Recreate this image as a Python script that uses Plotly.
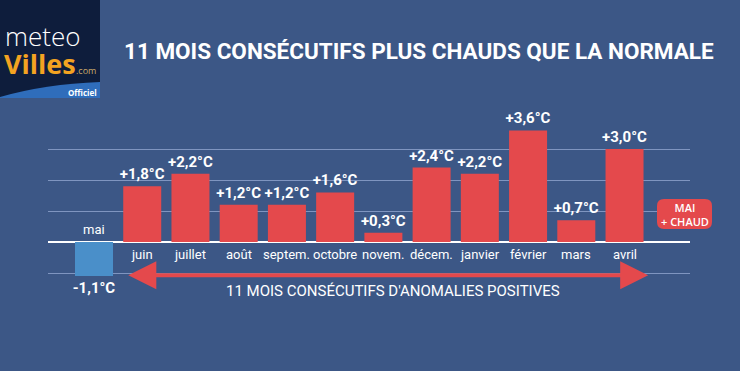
import plotly.graph_objects as go

months = ["mai", "juin", "juillet", "août", "septem.", "octobre", "novem.",
          "décem.", "janvier", "février", "mars", "avril"]
anomalies = [-1.1, 1.8, 2.2, 1.2, 1.2, 1.6, 0.3, 2.4, 2.2, 3.6, 0.7, 3.0]
title_text = "11 MOIS CONSÉCUTIFS PLUS CHAUDS QUE LA NORMALE"
arrow_text = "11 MOIS CONSÉCUTIFS D'ANOMALIES POSITIVES"
badge_text = "MAI<br>+ CHAUD"

BG = "#3c5786"
RED = "#e4494c"
BLUE = "#4a8fc9"
GRID = "#7f95c0"
COND = "Roboto, Liberation Sans, sans-serif"

W, H = 740, 371
L, R, T, B = 48, 690, 125, 290


def X(px):
    return (px - L) / (R - L)


def Y(py):
    return (B - py) / (B - T)


labels = [f"{v:+.1f}°C".replace(".", ",") for v in anomalies]
colors = [BLUE if v < 0 else RED for v in anomalies]
xs = list(range(len(months)))

fig = go.Figure()
fig.add_trace(go.Bar(
    x=xs, y=anomalies, marker=dict(color=colors, line=dict(width=0)),
    text=labels, textposition="outside", cliponaxis=False, constraintext="none",
    textfont=dict(family=COND, size=15, color="white", weight="bold"),
    hoverinfo="skip",
))

annotations = []
for i, (m, v) in enumerate(zip(months, anomalies)):
    annotations.append(dict(
        x=i, y=0, xref="x", yref="y", text=m, showarrow=False,
        xanchor="center", yanchor="bottom" if v < 0 else "top",
        yshift=3 if v < 0 else -3,
        font=dict(family=COND, size=13, color="white"),
    ))

# double arrow spanning positive months
annotations.append(dict(
    x=len(months) - 1 + 0.49, y=-1.07, ax=0.68, ay=-1.07,
    xref="x", yref="y", axref="x", ayref="y", text="",
    showarrow=True, arrowhead=2, startarrowhead=2, arrowside="end+start",
    arrowwidth=4, arrowsize=1.4, startarrowsize=1.4, arrowcolor=RED,
    standoff=0, startstandoff=0,
))


def ptext(px, py, text, font, xanchor="center"):
    annotations.append(dict(
        x=X(px), y=Y(py), xref="paper", yref="paper", text=text,
        xanchor=xanchor, yanchor="middle", showarrow=False, font=font, borderpad=0,
    ))


ptext(393, 291, arrow_text, dict(family="Roboto, sans-serif", size=15, color="white"))
ptext(419, 51, title_text, dict(family=COND, size=22.5, color="white", weight="bold"))
ptext(684.5, 214, badge_text, dict(family="Open Sans, sans-serif", size=11, color="white", weight=600))
ptext(4, 36, "meteo", dict(family="Open Sans, sans-serif", size=26, color="white", weight=300), "left")
ptext(3, 63, "Villes", dict(family="Open Sans, sans-serif", size=27, color="#f3a321", weight="bold"), "left")
ptext(75, 70, ".com", dict(family="Open Sans, sans-serif", size=9, color="#c9a869"), "left")
ptext(98, 92, "Officiel", dict(family="Open Sans, sans-serif", size=8, color="white", weight="bold"), "right")


def rounded(x0, y0, x1, y1, r):
    return (f"M{X(x0 + r)},{Y(y0)} L{X(x1 - r)},{Y(y0)} Q{X(x1)},{Y(y0)} {X(x1)},{Y(y0 + r)} "
            f"L{X(x1)},{Y(y1 - r)} Q{X(x1)},{Y(y1)} {X(x1 - r)},{Y(y1)} "
            f"L{X(x0 + r)},{Y(y1)} Q{X(x0)},{Y(y1)} {X(x0)},{Y(y1 - r)} "
            f"L{X(x0)},{Y(y0 + r)} Q{X(x0)},{Y(y0)} {X(x0 + r)},{Y(y0)} Z")


shapes = [
    # logo box
    dict(type="rect", xref="paper", yref="paper", x0=X(0), x1=X(100), y0=Y(98), y1=Y(0),
         fillcolor="#0e1d3c", line=dict(width=0), layer="below"),
    dict(type="path", xref="paper", yref="paper",
         path=f"M{X(0)},{Y(97)} Q{X(45)},{Y(84)} {X(100)},{Y(82)} L{X(100)},{Y(98)} L{X(0)},{Y(98)} Z",
         fillcolor="#2f6dbb", line=dict(width=0), layer="below"),
    # badge
    dict(type="path", xref="paper", yref="paper", path=rounded(657, 199, 712, 229, 7),
         fillcolor=RED, line=dict(width=0), layer="above"),
]

fig.update_layout(
    width=W, height=H, margin=dict(l=L, r=W - R, t=T, b=H - B),
    paper_bgcolor=BG, plot_bgcolor=BG, showlegend=False, bargap=0.212,
    xaxis=dict(range=[(L - 94) / 48.23, (R - 94) / 48.23], showticklabels=False,
               showgrid=False, zeroline=False, fixedrange=True),
    yaxis=dict(range=[-(B - 242) / 31, (242 - T) / 31], dtick=1, tick0=0,
               showticklabels=False, showgrid=True, gridcolor=GRID, gridwidth=1,
               zeroline=True, zerolinecolor="white", zerolinewidth=2, fixedrange=True),
    annotations=annotations, shapes=shapes,
)

fig.write_html("out.html", config={"displayModeBar": False},
               post_script="document.body.style.margin='0';")
